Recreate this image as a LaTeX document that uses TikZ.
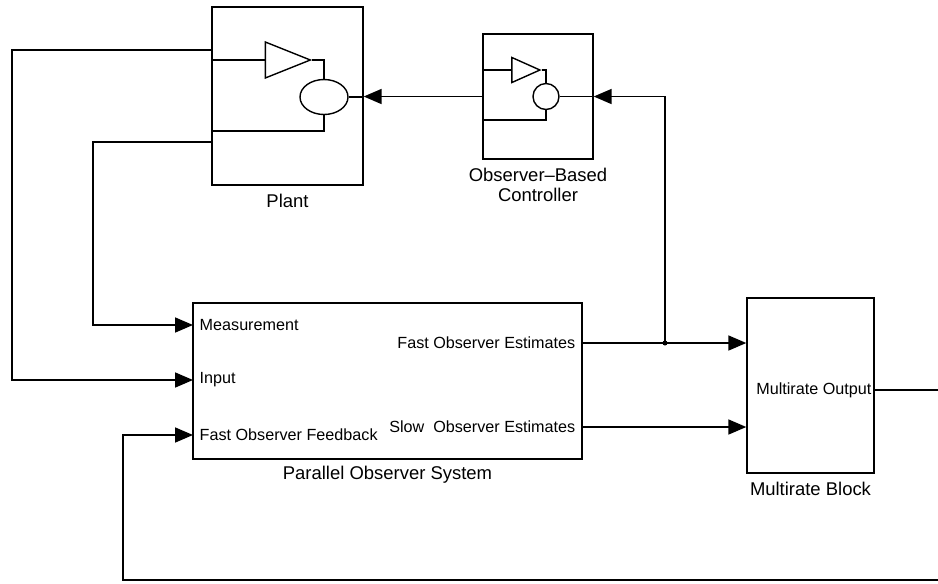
\documentclass[tikz,border=0pt]{standalone}
\usepackage{fontspec}
\setmainfont{Liberation Sans}
\usetikzlibrary{arrows.meta,shapes.geometric}

\begin{document}
\begin{tikzpicture}[x=0.02cm, y=-0.02cm, >={Triangle[length=0.36cm,width=0.3cm]}, line width=1pt,
    every node/.style={font=\fontsize{9.2}{11}\selectfont},
    blk/.style={draw, line width=0.8pt, inner sep=0pt},
    blklabel/.style={font=\fontsize{10.5}{11.5}\selectfont, align=center},
    gain/.style={draw, isosceles triangle, isosceles triangle stretches, inner sep=0pt, line width=0.8pt},
    sumblk/.style={draw, ellipse, inner sep=0pt, line width=0.8pt}]
    \useasboundingbox (0,0) rectangle (938,583);

    % blocks
    \node[blk, minimum width=3.02cm, minimum height=3.56cm] (plant) at (287.5,96) {};
    \node[blk, minimum width=2.2cm, minimum height=2.5cm] (ctrl) at (538,96.5) {};
    \node[blk, minimum width=7.78cm, minimum height=3.12cm] (par) at (387.5,381) {};
    \node[blk, minimum width=2.54cm, minimum height=3.5cm] (mr) at (810.5,385.5) {};
    \node[blklabel, below=1pt] at (plant.south) {Plant};
    \node[blklabel, below=1pt] at (ctrl.south) {Observer--Based\\Controller};
    \node[blklabel, below=0pt] at (par.south) {Parallel Observer System};
    \node[blklabel, below=1pt] at (mr.south) {Multirate Block};

    % plant internals
    \node[gain, minimum width=0.72cm, minimum height=0.9cm] (gainP) at (277.5,60) {};
    \node[sumblk, minimum width=0.96cm, minimum height=0.7cm] (sumP) at (324,97) {};
    \coordinate (pLow) at (324,131);
    \draw (plant.west |- gainP) -- (gainP.west);
    \draw (gainP.east) -| (sumP.north);
    \draw (sumP.south) -- (pLow) -- (plant.west |- pLow);
    \draw (sumP.east) -- (plant.east |- sumP);

    % controller internals
    \node[gain, minimum width=0.5cm, minimum height=0.56cm] (gainC) at (520,70) {};
    \node[sumblk, circle, minimum size=0.52cm] (sumC) at (546,96.5) {};
    \coordinate (cLow) at (546,120);
    \draw (ctrl.west |- gainC) -- (gainC.west);
    \draw (gainC.east) -| (sumC.north);
    \draw (sumC.south) -- (cLow) -- (ctrl.west |- cLow);
    \draw (sumC.east) -- (ctrl.east |- sumC);

    % ports
    \coordinate (pIn) at (212,50);
    \coordinate (pMeas) at (212,142);
    \coordinate (measIn) at (193,325);
    \coordinate (uIn) at (193,380);
    \coordinate (fbIn) at (193,435);
    \coordinate (fastOut) at (582,343);
    \coordinate (slowOut) at (582,427);
    \coordinate (jn) at (665,343);
    \coordinate (mrOut) at (874,390);
    \coordinate (outEnd) at (938,390);
    \coordinate (fbStart) at (938,580);
    \node[anchor=west] at (measIn) {Measurement};
    \node[anchor=west] at (uIn) {Input};
    \node[anchor=west] at (fbIn) {Fast Observer Feedback};
    \node[anchor=east] at (fastOut) {Fast Observer Estimates};
    \node[anchor=east] at (slowOut) {Slow\ \ Observer Estimates};
    \node[anchor=east, inner sep=1pt] at (mrOut) {Multirate Output};

    % connectors
    \draw[->] (pIn) -- (12,50) |- (uIn);
    \draw[->] (pMeas) -- (93,142) |- (measIn);
    \draw[->] (ctrl.west) -- (plant.east |- ctrl.west);
    \draw[->] (fastOut) -- (mr.west |- fastOut);
    \draw[->] (jn) |- (ctrl.east);
    \fill (jn) circle (2.5);
    \draw[->] (slowOut) -- (mr.west |- slowOut);
    \draw (mrOut) -- (outEnd);
    \draw[->] (fbStart) -| (123,435) -- (fbIn);
\end{tikzpicture}
\end{document}
